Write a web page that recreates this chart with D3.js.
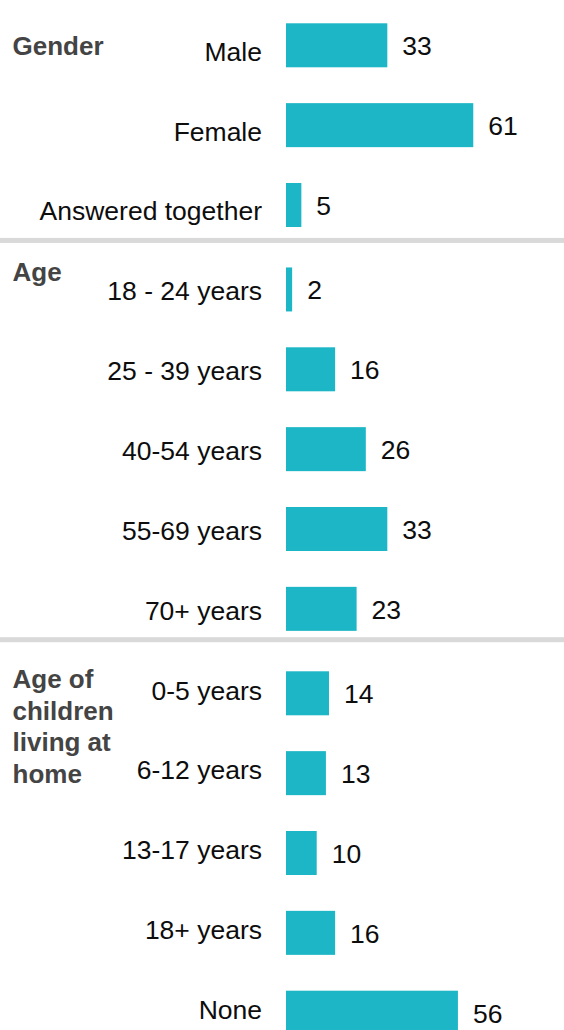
<!DOCTYPE html>
<html>
<head>
<meta charset="utf-8">
<script src="https://cdn.jsdelivr.net/npm/d3@7"></script>
<style>
  html, body { margin: 0; padding: 0; background: #fff; }
  svg { display: block; }
</style>
</head>
<body>
<svg id="chart" width="564" height="1030"></svg>
<script>
// ---- data ----
const groups = ["Gender", "Age", "Age of children living at home"];
const groupTitleLines = [["Gender"], ["Age"], ["Age of", "children", "living at", "home"]];
const categories = [
  "Male", "Female", "Answered together",
  "18 - 24 years", "25 - 39 years", "40-54 years", "55-69 years", "70+ years",
  "0-5 years", "6-12 years", "13-17 years", "18+ years", "None"
];
const categoryGroup = [0, 0, 0, 1, 1, 1, 1, 1, 2, 2, 2, 2, 2];
const values = [33, 61, 5, 2, 16, 26, 33, 23, 14, 13, 10, 16, 56];

// ---- layout ----
const W = 564, H = 1030;
const barColor = "#1cb6c6";
const sepColor = "#d9d9d9";
const font = "'Liberation Sans', Arial, Helvetica, sans-serif";
const barH = 44;
const groupGap = 4.6;
const titleDy = [31.7, 14, 16.7];
const titleLineH = 31.5;

const svg = d3.select("#chart");

const x = d3.scaleLinear().domain([0, 100]).range([286, 593]);
const rowTop = d3.scaleLinear().domain([0, 12]).range([23.3, 23.3 + 12 * 79.85]);
const labelBase = d3.scaleLinear().domain([0, 12]).range([60.7, 60.7 + 12 * 79.86]);
const barY = i => rowTop(i) + groupGap * categoryGroup[i];

const rows = categories.map((c, i) => ({ c, i, v: values[i], g: categoryGroup[i] }));

// separators (below last row of each group except last)
groups.forEach((g, gi) => {
  if (gi === groups.length - 1) return;
  const last = d3.max(rows.filter(r => r.g === gi), r => r.i);
  const yc = labelBase(last) + 20;
  svg.append("rect")
    .attr("x", 0).attr("y", yc - 2.5)
    .attr("width", W).attr("height", 5)
    .attr("fill", sepColor);
});

// bars
svg.append("g").selectAll("rect").data(rows).join("rect")
  .attr("x", x(0))
  .attr("y", d => barY(d.i))
  .attr("width", d => x(d.v) - x(0))
  .attr("height", barH)
  .attr("fill", barColor);

// category labels
svg.append("g").selectAll("text").data(rows).join("text")
  .attr("x", 262)
  .attr("y", d => labelBase(d.i))
  .attr("text-anchor", "end")
  .attr("font-family", font)
  .attr("font-size", 26.5)
  .attr("fill", "#0d0d0d")
  .text(d => d.c);

// value labels
svg.append("g").selectAll("text").data(rows).join("text")
  .attr("x", d => x(d.v) + 15)
  .attr("y", d => barY(d.i) + 32)
  .attr("font-family", font)
  .attr("font-size", 26.5)
  .attr("fill", "#0d0d0d")
  .text(d => d.v);

// group titles
groups.forEach((g, gi) => {
  const first = d3.min(rows.filter(r => r.g === gi), r => r.i);
  const y0 = barY(first) + titleDy[gi];
  const t = svg.append("text")
    .attr("x", 12.5)
    .attr("y", y0)
    .attr("font-family", font)
    .attr("font-size", 26)
    .attr("font-weight", "bold")
    .attr("fill", "#444");
  groupTitleLines[gi].forEach((line, li) => {
    t.append("tspan").attr("x", 12.5).attr("y", y0 + li * titleLineH).text(line);
  });
});
</script>
</body>
</html>
